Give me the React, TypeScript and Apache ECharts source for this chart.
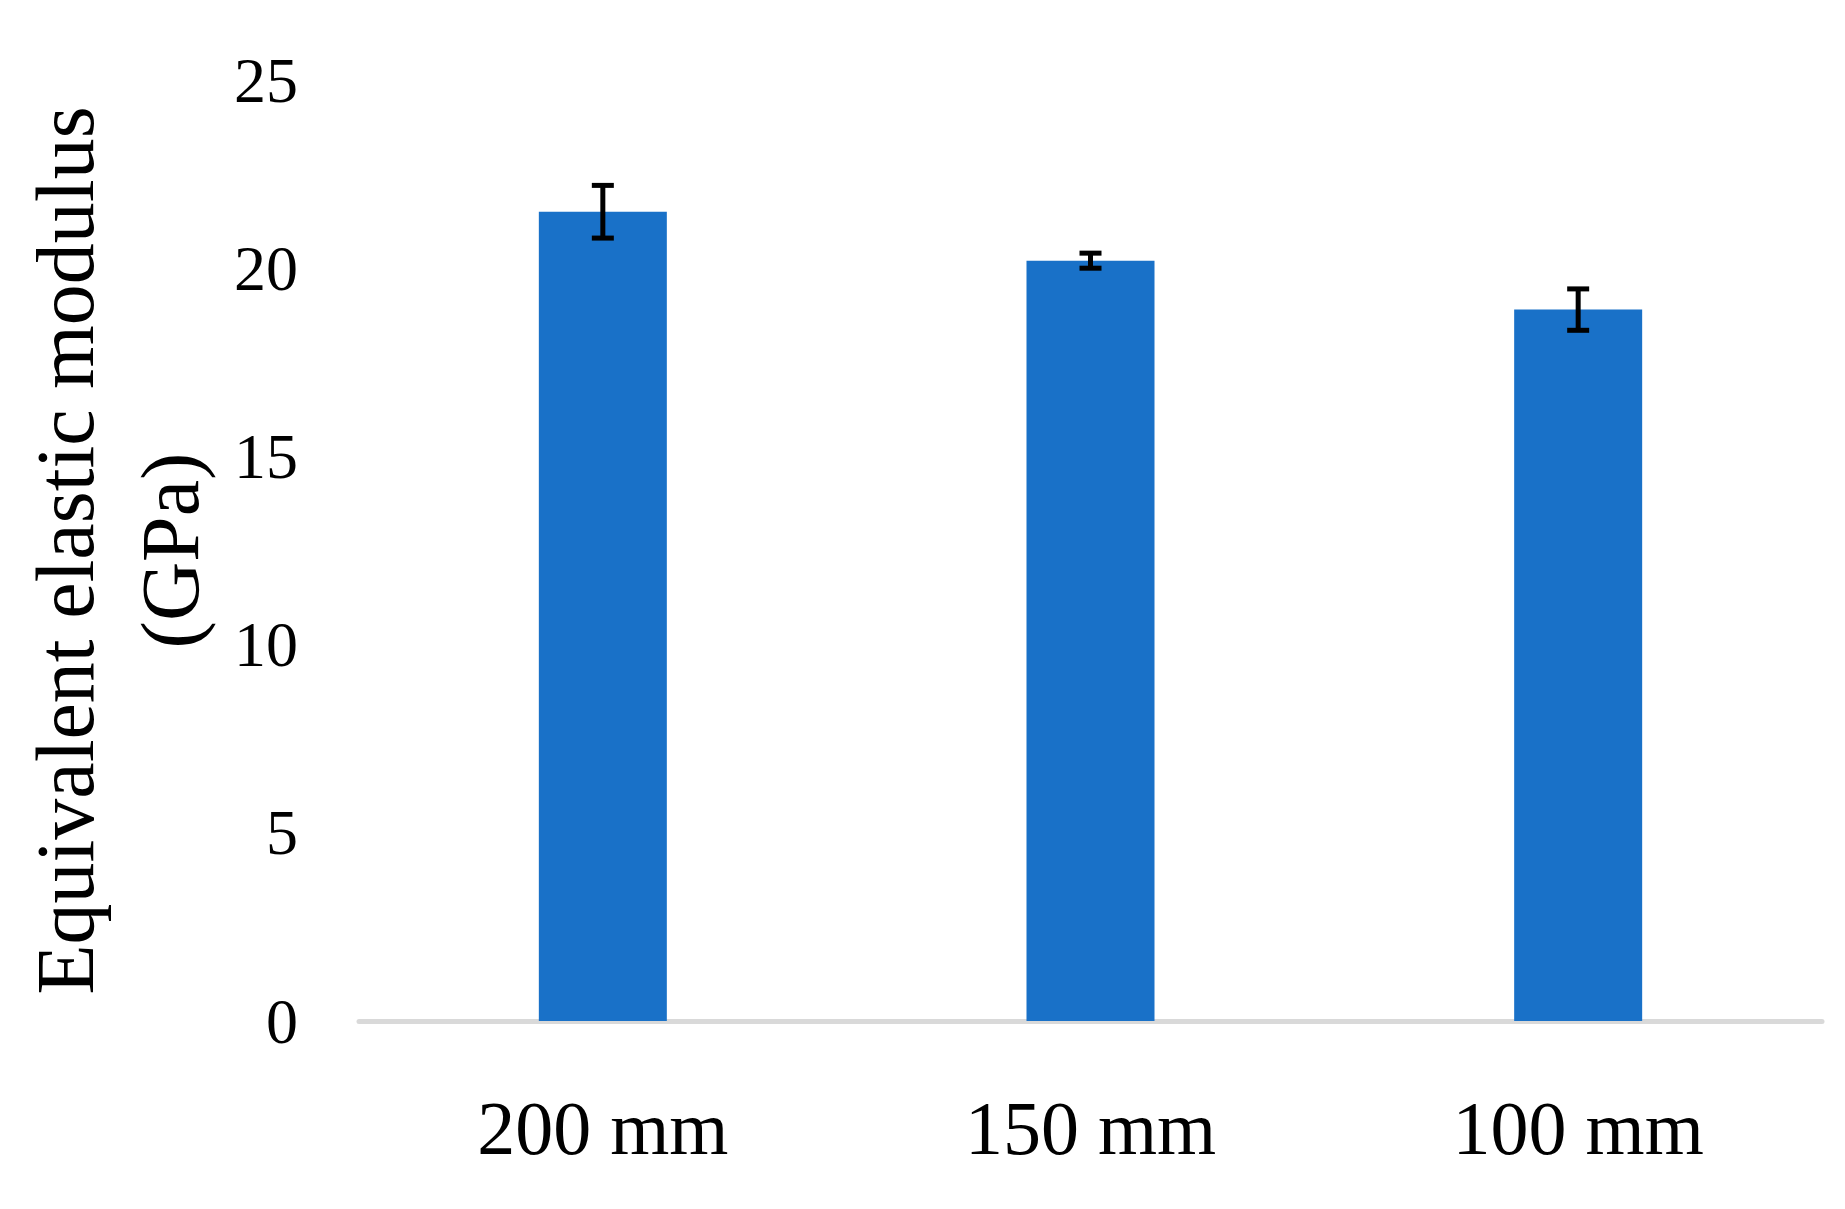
import React, { useEffect, useRef } from "react";
import * as echarts from "echarts";

const categories = ["200 mm", "150 mm", "100 mm"];
const modulusValues = [21.5, 20.2, 18.9];
const errorValues = [0.7, 0.2, 0.55];
const yTicks = { min: 0, max: 25, interval: 5 };
const yTitle = "Equivalent elastic modulus\n(GPa)";

const FONT = "'Liberation Serif', 'Times New Roman', serif";

export default function App() {
  const ref = useRef<HTMLDivElement>(null);
  useEffect(() => {
    document.body.style.margin = "0";
    if (!ref.current) return;
    const chart = echarts.init(ref.current, undefined, { renderer: "svg" });
    const errData = categories.map((_, i) => [
      i,
      modulusValues[i] - errorValues[i],
      modulusValues[i] + errorValues[i],
    ]);
    chart.setOption({
      animation: false,
      backgroundColor: "#ffffff",
      grid: { left: 359, right: 23, top: 80, bottom: 188, containLabel: false },
      xAxis: {
        type: "category",
        data: categories,
        offset: 3,
        axisLine: { show: true, lineStyle: { color: "#d9d9d9", width: 5 } },
        axisTick: { show: false },
        axisLabel: {
          margin: 66,
          fontFamily: FONT,
          fontSize: 76,
          color: "#000000",
        },
        splitLine: { show: false },
      },
      yAxis: {
        type: "value",
        min: yTicks.min,
        max: yTicks.max,
        interval: yTicks.interval,
        name: yTitle,
        nameLocation: "middle",
        nameRotate: 90,
        nameGap: 128,
        nameTextStyle: {
          fontFamily: FONT,
          fontSize: 82,
          lineHeight: 105,
          color: "#000000",
          align: "center",
        },
        axisLine: { show: false },
        axisTick: { show: false },
        splitLine: { show: false },
        axisLabel: {
          margin: 61,
          fontFamily: FONT,
          fontSize: 64,
          color: "#000000",
        },
      },
      series: [
        {
          type: "bar",
          data: modulusValues,
          barWidth: 128,
          itemStyle: { color: "#1971c8" },
          z: 2,
        },
        {
          type: "custom",
          data: errData,
          encode: { x: 0, y: [1, 2] },
          z: 5,
          renderItem: (params: any, api: any) => {
            const x = api.value(0);
            const top = api.coord([x, api.value(2)]);
            const bot = api.coord([x, api.value(1)]);
            const hw = 11;
            const style = { stroke: "#000000", lineWidth: 5 };
            return {
              type: "group",
              children: [
                { type: "line", shape: { x1: top[0], y1: top[1], x2: bot[0], y2: bot[1] }, style },
                { type: "line", shape: { x1: top[0] - hw, y1: top[1], x2: top[0] + hw, y2: top[1] }, style },
                { type: "line", shape: { x1: bot[0] - hw, y1: bot[1], x2: bot[0] + hw, y2: bot[1] }, style },
              ],
            };
          },
        },
      ],
    });
    return () => chart.dispose();
  }, []);
  return <div ref={ref} style={{ width: 1845, height: 1209 }} />;
}
